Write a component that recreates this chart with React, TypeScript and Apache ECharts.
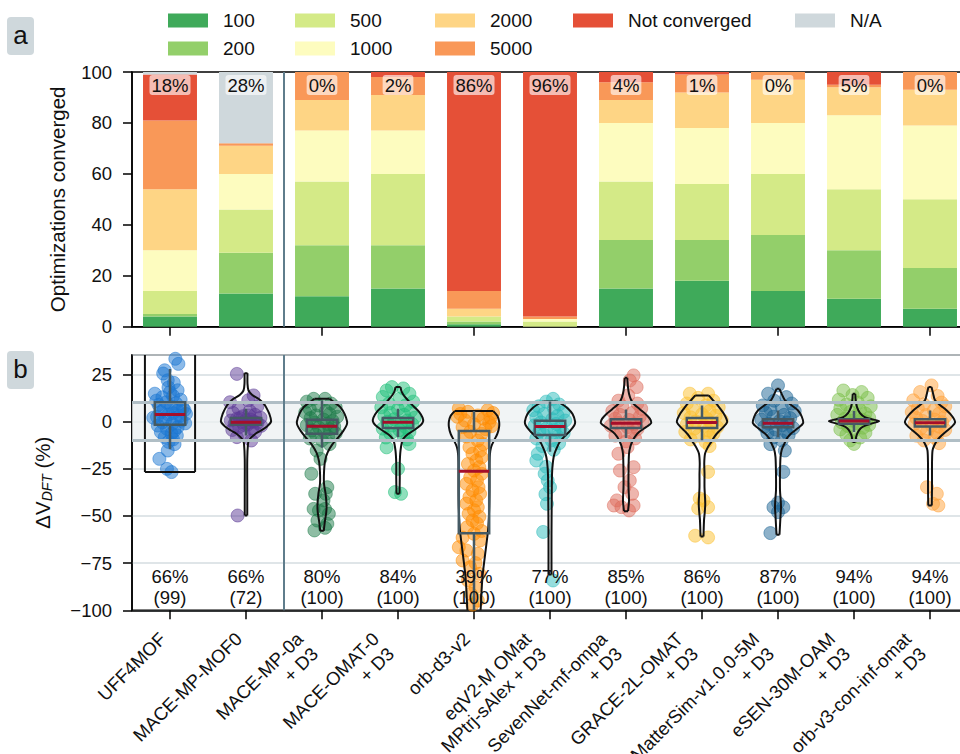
import React, { useEffect, useRef } from 'react';
import * as echarts from 'echarts';

const FONT = 'Liberation Sans, Arial, Helvetica, sans-serif';

// Models, in plotting order
const modelNames = [
  'UFF4MOF',
  'MACE-MP-MOF0',
  'MACE-MP-0a\n+ D3',
  'MACE-OMAT-0\n+ D3',
  'orb-d3-v2',
  'eqV2-M OMat\nMPtrj-sAlex + D3',
  'SevenNet-mf-ompa\n+ D3',
  'GRACE-2L-OMAT\n+ D3',
  'MatterSim-v1.0.0-5M\n+ D3',
  'eSEN-30M-OAM\n+ D3',
  'orb-v3-con-inf-omat\n+ D3',
];

// (a) share of optimizations converged within N steps (%)
const steps100 = [4, 13, 12, 15, 1, 0, 15, 18, 14, 11, 7];
const steps200 = [1, 16, 20, 17, 1, 0, 19, 16, 22, 19, 16];
const steps500 = [9, 17, 25, 28, 2, 2, 23, 22, 24, 24, 27];
const steps1000 = [16, 14, 20, 17, 0, 1, 23, 22, 20, 29, 29];
const steps2000 = [24, 11, 12, 14, 3, 0, 9, 14, 17, 11, 14];
const steps5000 = [27, 1, 11, 7, 7, 1, 7, 7, 3, 1, 7];
const notConverged = [18, 0, 0, 2, 86, 96, 4, 1, 0, 5, 0];
const notAvailable = [1, 28, 0, 0, 0, 0, 0, 0, 0, 0, 0];
const failedPct = [18, 28, 0, 2, 86, 96, 4, 1, 0, 5, 0];

const stepNames = ['100', '200', '500', '1000', '2000', '5000', 'Not converged', 'N/A'];
const stepSeries = [steps100, steps200, steps500, steps1000, steps2000, steps5000, notConverged, notAvailable];
const stepColors = ['#3faa5a', '#93cf6a', '#d4ea87', '#fdfcbf', '#fed585', '#f99858', '#e55037', '#cfd8dc'];

// (b) summary labels
const withinPct = [66, 66, 80, 84, 39, 77, 85, 86, 87, 94, 94];
const nStructures = [99, 72, 100, 100, 100, 100, 100, 100, 100, 100, 100];

const modelColors = ['#1976d2', '#5b3a96', '#1e7b4a', '#20c07a', '#ff8c00', '#2bbcbc', '#de6b5b', '#fbc02d', '#1b6394', '#7cbf4a', '#ffa23a'];

// (b) ΔV_DFT per structure: [value %, horizontal jitter in category widths]
const ptsUFF4MOF = [[33.2, 0.07], [30.5, 0.11], [27.1, -0.07], [25.4, -0.09], [21.8, -0.03], [20.5, 0.05], [18.0, -0.02], [16.5, 0.1], [14.7, -0.2], [13.5, 0.04], [12.8, -0.1], [11.5, 0.14], [10.2, -0.05], [9.6, 0.08], [8.8, -0.15], [7.9, 0.02], [7.2, 0.17], [6.5, -0.08], [5.8, 0.1], [5.0, -0.12], [4.4, 0.04], [3.7, -0.02], [3.0, 0.13], [2.4, -0.17], [1.8, 0.07], [1.0, -0.06], [0.4, 0.15], [-0.5, -0.1], [-1.2, 0.03], [-2.2, -0.16], [-3.0, 0.1], [-3.9, -0.04], [-4.8, 0.06], [-5.6, -0.12], [-6.5, 0.02], [-7.4, 0.09], [-8.3, -0.07], [-9.5, 0.04], [-10.8, -0.02], [-12.0, 0.06], [-15.4, -0.03], [-19.8, -0.14], [-25.1, -0.04], [-26.8, 0.02], [6.0, 0.19], [2.0, -0.22], [15.5, 0.0], [-1.0, 0.2], [11.0, -0.18], [4.0, 0.21]];
const ptsMOF0 = [[25.2, -0.12], [13.8, 0.1], [11.2, 0.03], [10.2, -0.21], [8.0, 0.15], [7.0, -0.1], [5.5, 0.05], [4.5, -0.17], [3.5, 0.12], [2.8, -0.04], [2.0, 0.19], [1.5, -0.12], [1.0, 0.06], [0.5, -0.2], [0.0, 0.1], [-0.3, -0.05], [-0.8, 0.15], [-1.2, -0.15], [-1.7, 0.02], [-2.3, 0.2], [-3.0, -0.09], [-3.8, 0.08], [-4.5, -0.18], [-5.5, 0.12], [-6.5, -0.03], [-8.3, -0.12], [-10.1, 0.07], [-49.8, -0.11], [0.8, 0.0], [-0.5, 0.05], [1.8, -0.08], [-2.0, -0.02], [3.2, 0.04]];
const ptsMP0a = [[12.0, -0.11], [12.0, 0.04], [10.5, -0.2], [9.5, 0.12], [8.5, -0.05], [7.5, 0.18], [6.5, -0.16], [5.5, 0.05], [4.8, -0.22], [4.0, 0.1], [3.2, -0.08], [2.5, 0.2], [1.8, -0.15], [1.0, 0.02], [0.3, 0.14], [-0.5, -0.1], [-1.2, 0.07], [-2.0, -0.2], [-2.6, 0.16], [-3.3, -0.04], [-4.0, 0.1], [-4.8, -0.13], [-5.5, 0.03], [-6.3, 0.18], [-7.0, -0.08], [-8.0, 0.08], [-9.0, -0.16], [-10.0, 0.0], [-12.0, 0.1], [-15.4, -0.07], [-19.8, -0.02], [-27.7, -0.14], [-34.8, 0.07], [-38.3, -0.09], [-38.3, 0.05], [-41.8, 0.02], [-46.3, -0.11], [-47.1, -0.04], [-46.3, 0.04], [-48.9, 0.09], [-52.5, -0.06], [-54.2, 0.07], [-57.7, -0.1], [-56.3, 0.04]];
const ptsOMAT0 = [[18.2, -0.08], [16.4, -0.15], [17.5, 0.07], [14.7, 0.15], [13.0, -0.2], [12.0, 0.02], [10.5, 0.2], [9.5, -0.12], [8.5, 0.1], [7.5, -0.22], [6.5, 0.0], [5.5, 0.17], [4.5, -0.1], [3.5, 0.08], [2.8, -0.18], [2.0, 0.22], [1.2, -0.05], [0.5, 0.12], [-0.2, -0.14], [-0.8, 0.04], [-1.5, 0.19], [-2.2, -0.08], [-3.0, 0.1], [-3.8, -0.2], [-4.6, 0.02], [-5.5, 0.15], [-6.5, -0.1], [-7.5, 0.07], [-8.5, -0.16], [-9.5, 0.12], [-11.9, 0.15], [-13.7, -0.15], [-25.1, 0.0], [-37.4, -0.04], [-38.3, 0.04]];
const ptsOrbD3 = [[6.9, -0.2], [6.0, 0.18], [5.1, -0.08], [4.5, 0.25], [3.2, 0.05], [2.5, -0.22], [1.5, 0.12], [0.6, -0.12], [-0.5, 0.2], [-1.5, 0.0], [-3.0, -0.15], [-4.0, 0.15], [-5.5, -0.05], [-6.5, 0.1], [-8.0, -0.1], [-10.1, 0.05], [-12.0, 0.12], [-13.6, -0.06], [-15.5, 0.08], [-17.1, -0.02], [-19.0, 0.1], [-20.7, 0.03], [-22.5, -0.08], [-24.2, 0.07], [-26.0, 0.0], [-27.7, 0.1], [-29.5, -0.05], [-31.3, 0.04], [-33.0, -0.1], [-34.8, 0.06], [-36.5, -0.02], [-38.3, 0.08], [-40.0, -0.06], [-41.8, 0.03], [-43.5, -0.1], [-45.4, 0.05], [-47.0, 0.0], [-48.9, -0.07], [-50.5, 0.07], [-52.4, -0.02], [-54.0, 0.04], [-56.0, -0.09], [-58.0, 0.1], [-59.5, 0.0], [-61.5, -0.15], [-63.0, 0.08], [-66.6, -0.2], [-68.3, -0.1], [-70.1, 0.05], [-73.6, -0.15], [-75.0, 0.02], [-77.2, -0.05], [-80.7, 0.07], [-84.2, -0.08], [-87.8, 0.02], [-91.3, -0.04], [-94.8, 0.05], [-97.0, -0.02], [4.0, -0.18], [2.0, 0.22], [-2.5, 0.23]];
const ptsEqV2 = [[12.0, 0.04], [10.5, -0.05], [9.0, 0.12], [8.0, -0.15], [7.0, 0.05], [6.0, -0.22], [5.0, 0.18], [4.0, -0.08], [3.0, 0.1], [2.0, -0.18], [1.2, 0.03], [0.5, 0.2], [-0.5, -0.12], [-1.3, 0.08], [-2.0, -0.2], [-2.8, 0.14], [-3.5, -0.04], [-4.5, 0.06], [-5.3, -0.14], [-6.2, 0.18], [-7.0, -0.08], [-8.0, 0.1], [-9.0, -0.18], [-10.0, 0.02], [-11.5, 0.12], [-13.0, -0.1], [-15.0, 0.05], [-17.1, -0.16], [-20.7, -0.18], [-24.0, -0.05], [-27.7, -0.07], [-31.3, -0.03], [-34.8, 0.0], [-38.5, -0.06], [-43.6, -0.04], [-58.5, -0.09], [-84.2, 0.04]];
const ptsSevenNet = [[24.4, 0.1], [21.7, 0.05], [18.2, 0.14], [13.8, 0.03], [11.0, -0.1], [9.5, 0.15], [8.0, -0.05], [6.8, 0.2], [5.5, -0.18], [4.5, 0.08], [3.5, -0.08], [2.5, 0.18], [1.5, -0.14], [0.8, 0.04], [0.0, 0.22], [-0.8, -0.1], [-1.5, 0.1], [-2.3, -0.2], [-3.0, 0.02], [-4.0, 0.15], [-5.0, -0.06], [-6.0, 0.08], [-7.5, -0.14], [-9.0, 0.12], [-10.5, 0.0], [-13.6, 0.02], [-17.1, -0.1], [-24.2, 0.1], [-26.0, -0.08], [-31.3, 0.05], [-34.8, -0.02], [-38.3, 0.08], [-41.8, -0.12], [-44.5, -0.16], [-44.5, 0.1], [-45.4, -0.06], [-47.1, 0.04]];
const ptsGRACE = [[14.7, -0.16], [14.7, 0.08], [12.5, -0.05], [11.0, 0.15], [9.5, -0.2], [8.5, 0.05], [7.5, 0.22], [6.5, -0.12], [5.5, 0.1], [4.5, -0.24], [3.8, 0.0], [3.0, 0.18], [2.2, -0.15], [1.5, 0.06], [0.8, 0.26], [0.0, -0.08], [-0.8, 0.12], [-1.5, -0.2], [-2.3, 0.03], [-3.0, 0.2], [-3.8, -0.1], [-4.7, 0.08], [-5.5, -0.22], [-6.5, 0.15], [-7.5, -0.05], [-8.5, 0.1], [-9.5, -0.15], [-11.0, 0.05], [-13.0, 0.1], [-26.7, 0.08], [-40.8, -0.03], [-41.8, 0.02], [-45.4, 0.08], [-46.0, -0.05], [-60.5, -0.09], [-61.4, 0.08]];
const ptsMatterSim = [[19.1, 0.0], [14.7, -0.13], [12.9, 0.11], [11.0, -0.05], [9.5, 0.18], [8.5, -0.2], [7.5, 0.05], [6.5, -0.1], [5.5, 0.22], [4.5, -0.16], [3.5, 0.08], [2.5, -0.06], [1.8, 0.16], [1.0, -0.22], [0.2, 0.02], [-0.5, 0.12], [-1.2, -0.12], [-2.0, 0.06], [-2.8, -0.18], [-3.5, 0.2], [-4.3, -0.03], [-5.2, 0.1], [-6.2, -0.14], [-7.2, 0.14], [-8.5, -0.06], [-10.0, 0.05], [-12.0, -0.1], [-15.4, 0.09], [-26.7, 0.07], [-43.0, 0.0], [-45.4, -0.06], [-45.4, 0.07], [-48.0, 0.0], [-59.1, -0.1]];
const ptsESEN = [[16.4, -0.14], [15.6, 0.1], [14.0, -0.02], [12.5, 0.18], [11.5, -0.2], [10.0, 0.05], [9.0, -0.1], [8.0, 0.22], [7.0, -0.18], [6.0, 0.08], [5.0, -0.05], [4.2, 0.15], [3.5, -0.22], [2.8, 0.02], [2.0, 0.2], [1.5, -0.12], [1.0, 0.1], [0.5, -0.04], [0.0, 0.16], [-0.5, -0.16], [-1.0, 0.04], [-1.8, 0.2], [-2.5, -0.08], [-3.3, 0.12], [-4.2, -0.18], [-5.0, 0.0], [-6.0, 0.15], [-7.0, -0.1], [-8.5, 0.08], [-10.0, -0.05], [-11.9, 0.0]];
const ptsOrbV3 = [[19.1, 0.02], [15.6, -0.13], [13.5, 0.1], [11.2, -0.22], [10.0, 0.15], [9.0, -0.08], [8.0, 0.2], [7.0, -0.16], [6.0, 0.05], [5.0, -0.24], [4.2, 0.12], [3.4, -0.05], [2.6, 0.2], [1.8, -0.18], [1.0, 0.06], [0.3, -0.1], [-0.4, 0.16], [-1.2, -0.2], [-2.0, 0.02], [-2.8, 0.12], [-3.6, -0.12], [-4.5, 0.2], [-5.5, -0.04], [-6.5, 0.1], [-7.5, -0.18], [-8.5, 0.06], [-10.0, -0.08], [-11.5, 0.12], [-34.8, -0.04], [-38.3, 0.09], [-43.6, 0.04], [-44.5, 0.11]];
const modelPoints = [ptsUFF4MOF, ptsMOF0, ptsMP0a, ptsOMAT0, ptsOrbD3, ptsEqV2, ptsSevenNet, ptsGRACE, ptsMatterSim, ptsESEN, ptsOrbV3];

// Violin outlines: [value %, relative half-width], from data max down to data min
const vioUFF4MOF = [[60, 1], [30, 1], [0, 1], [-26.8, 1]];
const vioMOF0 = [[25.6, 0.06], [20, 0.06], [16.4, 0.1], [14, 0.25], [12, 0.5], [9.5, 0.7], [7.6, 0.8], [4, 0.93], [0, 1], [-2.5, 0.85], [-4.8, 0.6], [-6.5, 0.38], [-8.3, 0.22], [-10, 0.12], [-11.8, 0.08], [-20, 0.05], [-35, 0.05], [-49.8, 0.05]];
const vioMP0a = [[12.0, 0.3], [10, 0.5], [7.6, 0.73], [4, 0.9], [0, 1], [-2, 0.98], [-5, 0.85], [-8.3, 0.66], [-12, 0.42], [-16.5, 0.22], [-21, 0.12], [-27, 0.08], [-33, 0.08], [-38, 0.14], [-44, 0.18], [-48, 0.17], [-52.4, 0.12], [-57.9, 0.07]];
const vioOMAT0 = [[18.2, 0.1], [16, 0.14], [14, 0.22], [11.2, 0.4], [8, 0.62], [5, 0.85], [2, 0.98], [0, 1], [-2, 0.9], [-4.8, 0.62], [-7.5, 0.32], [-10, 0.18], [-15.4, 0.1], [-22, 0.07], [-30, 0.07], [-38.3, 0.06]];
const vioOrbD3 = [[5.5, 0.77], [3, 0.93], [0, 1], [-3, 1], [-6.6, 0.93], [-10, 0.8], [-13.6, 0.68], [-18, 0.63], [-25, 0.62], [-35, 0.62], [-45, 0.61], [-56, 0.57], [-60, 0.54], [-66.6, 0.48], [-75, 0.4], [-82, 0.34], [-90, 0.3], [-98.4, 0.27], [-110, 0.2], [-125, 0.1]];
const vioEqV2 = [[10.6, 0.27], [9, 0.5], [7, 0.7], [4, 0.9], [0, 1], [-2, 0.97], [-5, 0.8], [-8.3, 0.55], [-11, 0.38], [-14, 0.27], [-17, 0.18], [-21, 0.12], [-28, 0.08], [-40, 0.07], [-60, 0.06], [-81, 0.06]];
const vioSevenNet = [[23.1, 0.05], [18, 0.08], [14.7, 0.12], [11.5, 0.2], [9.4, 0.3], [6.5, 0.55], [4.1, 0.77], [1.5, 0.95], [-0.9, 1], [-3, 0.8], [-5.6, 0.52], [-8, 0.36], [-10.1, 0.27], [-13, 0.18], [-17.1, 0.12], [-27.7, 0.1], [-35, 0.1], [-41.8, 0.12], [-47.5, 0.08]];
const vioGRACE = [[13.8, 0.27], [11.5, 0.42], [9.4, 0.57], [6.5, 0.74], [4.1, 0.87], [1.5, 0.97], [-0.4, 1], [-3, 0.85], [-5.6, 0.65], [-8, 0.5], [-10.8, 0.37], [-14, 0.22], [-17.1, 0.12], [-22, 0.09], [-27.7, 0.1], [-35, 0.1], [-43.6, 0.13], [-48, 0.11], [-52.5, 0.08], [-60.9, 0.06]];
const vioMatterSim = [[17.3, 0.06], [14.5, 0.15], [11.2, 0.28], [8.5, 0.55], [5.8, 0.8], [2.5, 0.95], [-0.9, 1], [-3.5, 0.8], [-6.6, 0.5], [-9, 0.35], [-11.9, 0.25], [-15, 0.15], [-18.9, 0.1], [-28, 0.08], [-36.6, 0.08], [-42, 0.11], [-45.5, 0.12], [-50, 0.1], [-60, 0.06]];
const vioESEN = [[14.7, 0.05], [11, 0.07], [7.6, 0.12], [4.4, 0.24], [2.3, 0.43], [1.2, 0.7], [0.2, 1], [-1, 0.72], [-2.1, 0.47], [-3.5, 0.28], [-5.6, 0.16], [-8, 0.09], [-10.9, 0.06]];
const vioOrbV3 = [[18.2, 0.06], [15, 0.12], [11.2, 0.2], [8.5, 0.42], [5.8, 0.67], [2.5, 0.9], [-0.5, 1], [-3, 0.85], [-5.6, 0.62], [-8, 0.42], [-10.1, 0.28], [-13, 0.16], [-15.4, 0.1], [-22, 0.08], [-27.7, 0.08], [-35, 0.08], [-44.5, 0.07]];
const modelViolins = [vioUFF4MOF, vioMOF0, vioMP0a, vioOMAT0, vioOrbD3, vioEqV2, vioSevenNet, vioGRACE, vioMatterSim, vioESEN, vioOrbV3];

// Box statistics: [lower whisker, Q1, median, Q3, upper whisker]
const boxStats = [
  [-14.7, -1.7, 3.7, 10.2, 27.8],
  [-7.4, -1.8, -0.35, 1.9, 6.7],
  [-13.9, -6.5, -2.5, 0.9, 11.1],
  [-8.3, -3.5, -0.35, 1.8, 6.7],
  [-100, -59.2, -26.3, -5.1, 5.5],
  [-16, -7.1, -2.6, 0.35, 10.6],
  [-8.7, -3.4, -0.9, 1.2, 6.4],
  [-10, -3.4, -0.5, 1.9, 8.5],
  [-8.3, -3.0, -0.9, 1.2, 5.8],
  [-5.6, -1.2, 0.2, 1.2, 5.5],
  [-7.4, -2.6, -0.7, 1.2, 5.8],
];

// ΔV tolerance band (%)
const bandLimits = [10, -10];
// index of the last baseline model (separator drawn after it)
const separatorAfter = 1;

const VIOLIN_HALF = 0.33;
const BOX_HALF = 0.2;
const AXIS_BLACK = '#000';

const fmtMinus = (v: number) => (v < 0 ? '\u2212' + Math.abs(v) : String(v));

function buildOption() {
  const catData = modelNames.map((name) => {
    const lines = name.split('\n').length;
    return { value: name, textStyle: { padding: [0, lines * 10.5, 0, 0] } };
  });

  const barSeries = stepNames.map((name, k) => ({
    name,
    type: 'bar',
    stack: 'steps',
    xAxisIndex: 0,
    yAxisIndex: 0,
    barWidth: '71%',
    itemStyle: { color: stepColors[k] },
    data: stepSeries[k],
    z: 2,
  }));

  const separator = (xAxisIndex: number, yAxisIndex: number) => ({
    type: 'custom',
    xAxisIndex,
    yAxisIndex,
    silent: true,
    z: 6,
    data: [[separatorAfter + 0.5, 0]],
    renderItem: (params: any, api: any) => {
      const x = api.coord([api.value(0), 0])[0];
      const cs = params.coordSys;
      return {
        type: 'line',
        shape: { x1: x, y1: cs.y, x2: x, y2: cs.y + cs.height },
        style: { stroke: '#5f7d8c', lineWidth: 2 },
      };
    },
  });

  const failLabelSeries = {
    type: 'custom',
    xAxisIndex: 3,
    yAxisIndex: 0,
    silent: true,
    z: 7,
    data: failedPct.map((p, i) => [i, 100, p]),
    renderItem: (params: any, api: any) => {
      const p = api.coord([api.value(0), api.value(1)]);
      return {
        type: 'text',
        x: p[0],
        y: p[1] + 13,
        style: {
          text: api.value(2) + '%',
          fontSize: 18.5,
          fontFamily: FONT,
          fill: '#111',
          align: 'center',
          verticalAlign: 'middle',
          backgroundColor: 'rgba(255,255,255,0.62)',
          padding: [1, 2, 0, 2],
          borderRadius: 3,
        },
      };
    },
  };

  const bandSeries = {
    type: 'line',
    xAxisIndex: 2,
    yAxisIndex: 1,
    data: [],
    silent: true,
    z: 1,
    markArea: {
      silent: true,
      itemStyle: { color: 'rgba(236,240,241,0.75)' },
      data: [[{ yAxis: bandLimits[0] }, { yAxis: bandLimits[1] }]],
    },
    markLine: {
      silent: true,
      symbol: 'none',
      label: { show: false },
      lineStyle: { color: '#b0bec5', width: 3, type: 'solid' },
      data: bandLimits.map((v) => ({ yAxis: v })),
    },
  };

  const scatterSeries = modelPoints.map((pts, i) => ({
    type: 'scatter',
    xAxisIndex: 2,
    yAxisIndex: 1,
    symbolSize: 13,
    silent: true,
    z: 3,
    itemStyle: { color: modelColors[i], opacity: 0.5, borderColor: modelColors[i], borderWidth: 1 },
    data: pts.map(([v, dx]) => [i + dx, v]),
  }));

  const violinSeries = {
    type: 'custom',
    xAxisIndex: 2,
    yAxisIndex: 1,
    clip: true,
    silent: true,
    z: 4,
    data: modelNames.map((_, i) => [i, 0]),
    renderItem: (params: any, api: any) => {
      const i = api.value(0);
      const prof = modelViolins[i];
      const right = prof.map(([v, f]) => api.coord([i + f * VIOLIN_HALF, v]));
      const left = prof.map(([v, f]) => api.coord([i - f * VIOLIN_HALF, v]));
      const n = prof.length - 1;
      const style = { stroke: '#111', lineWidth: 2, fill: 'none' };
      return {
        type: 'group',
        children: [
          { type: 'polyline', shape: { points: right, smooth: 0.3 }, style },
          { type: 'polyline', shape: { points: left, smooth: 0.3 }, style },
          { type: 'line', shape: { x1: left[0][0], y1: left[0][1], x2: right[0][0], y2: right[0][1] }, style },
          { type: 'line', shape: { x1: left[n][0], y1: left[n][1], x2: right[n][0], y2: right[n][1] }, style },
        ],
      };
    },
  };

  const boxSeries = {
    type: 'custom',
    xAxisIndex: 2,
    yAxisIndex: 1,
    clip: true,
    silent: true,
    z: 5,
    data: modelNames.map((_, i) => [i, 0]),
    renderItem: (params: any, api: any) => {
      const i = api.value(0);
      const [lo, q1, med, q3, hi] = boxStats[i];
      const pLo = api.coord([i, lo]);
      const pQ1 = api.coord([i, q1]);
      const pQ3 = api.coord([i, q3]);
      const pHi = api.coord([i, hi]);
      const tl = api.coord([i - BOX_HALF, q3]);
      const br = api.coord([i + BOX_HALF, q1]);
      const m1 = api.coord([i - BOX_HALF, med]);
      const m2 = api.coord([i + BOX_HALF, med]);
      const edge = { stroke: '#455a64', lineWidth: 2.5, fill: 'none' };
      return {
        type: 'group',
        children: [
          { type: 'line', shape: { x1: pLo[0], y1: pLo[1], x2: pQ1[0], y2: pQ1[1] }, style: edge },
          { type: 'line', shape: { x1: pQ3[0], y1: pQ3[1], x2: pHi[0], y2: pHi[1] }, style: edge },
          { type: 'rect', shape: { x: tl[0], y: tl[1], width: br[0] - tl[0], height: br[1] - tl[1] }, style: edge },
          { type: 'line', shape: { x1: m1[0], y1: m1[1], x2: m2[0], y2: m2[1] }, style: { stroke: '#a50e2a', lineWidth: 3 } },
        ],
      };
    },
  };

  const statSeries = {
    type: 'custom',
    xAxisIndex: 2,
    yAxisIndex: 1,
    silent: true,
    z: 8,
    data: withinPct.map((p, i) => [i, -100, p, nStructures[i]]),
    renderItem: (params: any, api: any) => {
      const p = api.coord([api.value(0), api.value(1)]);
      return {
        type: 'text',
        x: p[0],
        y: p[1] - 23,
        style: {
          text: api.value(2) + '%\n(' + api.value(3) + ')',
          fontSize: 18.5,
          lineHeight: 21,
          fontFamily: FONT,
          fill: '#111',
          align: 'center',
          verticalAlign: 'middle',
        },
      };
    },
  };

  const legendCols = [['100', '200'], ['500', '1000'], ['2000', '5000'], ['Not converged'], ['N/A']];
  const legendLefts = [163, 290, 430, 568, 790];

  const tickStyle = { show: true, length: 9, lineStyle: { color: AXIS_BLACK, width: 1.5 } };
  const lineStyle = { show: true, onZero: false, lineStyle: { color: AXIS_BLACK, width: 1.5 } };
  const hiddenLine = { show: false, onZero: false };
  const gridBase = { left: 132, width: 836, show: true, borderColor: AXIS_BLACK, borderWidth: 1.5, containLabel: false, outerBoundsMode: 'none' };

  return {
    animation: false,
    textStyle: { fontFamily: FONT },
    legend: legendCols.map((names, k) => ({
      left: legendLefts[k],
      top: 6,
      orient: 'vertical',
      data: names,
      icon: 'rect',
      itemWidth: 40,
      itemHeight: 14,
      itemGap: 9,
      selectedMode: false,
      textStyle: { fontSize: 19, color: '#111', fontFamily: FONT, padding: [0, 0, 0, 10] },
    })),
    graphic: [
      { type: 'rect', shape: { x: 7, y: 17, width: 27, height: 38, r: 4 }, style: { fill: '#cfd8dc' } },
      { type: 'text', x: 20.5, y: 35, style: { text: 'a', fontSize: 26, fontFamily: FONT, fill: '#111', align: 'center', verticalAlign: 'middle' } },
      { type: 'rect', shape: { x: 7, y: 351, width: 27, height: 38, r: 4 }, style: { fill: '#cfd8dc' } },
      { type: 'text', x: 20.5, y: 369, style: { text: 'b', fontSize: 26, fontFamily: FONT, fill: '#111', align: 'center', verticalAlign: 'middle' } },
    ],
    grid: [
      { ...gridBase, top: 72, height: 254.7 },
      { ...gridBase, top: 355, height: 255.3 },
    ],
    xAxis: [
      {
        type: 'category', gridIndex: 0, data: modelNames,
        axisLine: lineStyle, axisTick: { ...tickStyle, alignWithLabel: true }, axisLabel: { show: false },
      },
      {
        type: 'category', gridIndex: 1, data: catData,
        axisLine: lineStyle, axisTick: { ...tickStyle, alignWithLabel: true },
        axisLabel: { interval: 0, rotate: 45, margin: 18, fontSize: 18.5, lineHeight: 21, color: '#111', fontFamily: FONT, hideOverlap: false },
      },
      { type: 'value', gridIndex: 1, min: -0.5, max: 10.5, show: false, axisLine: hiddenLine },
      { type: 'value', gridIndex: 0, min: -0.5, max: 10.5, show: false, axisLine: hiddenLine },
    ],
    yAxis: [
      {
        type: 'value', gridIndex: 0, min: 0, max: 100, interval: 20,
        name: 'Optimizations converged', nameLocation: 'middle', nameGap: 64,
        nameTextStyle: { fontSize: 20.5, color: '#111', fontFamily: FONT },
        axisLine: lineStyle, axisTick: tickStyle,
        axisLabel: { fontSize: 18.5, color: '#111', margin: 20, fontFamily: FONT },
        splitLine: { show: false },
      },
      {
        type: 'value', gridIndex: 1, min: -100, max: 35.2, interval: 25,
        name: '{d|\u0394V}{s|DFT}{d| (%)}', nameLocation: 'middle', nameGap: 78,
        nameTextStyle: {
          color: '#111',
          fontFamily: FONT,
          rich: {
            d: { fontSize: 20.5, lineHeight: 24, fontFamily: FONT, color: '#111' },
            s: { fontSize: 14, lineHeight: 12, fontStyle: 'italic', verticalAlign: 'bottom', fontFamily: FONT, color: '#111' },
          },
        },
        axisLine: lineStyle,
        axisTick: tickStyle,
        axisLabel: { fontSize: 18.5, color: '#111', margin: 20, fontFamily: FONT, formatter: fmtMinus, showMaxLabel: false },
        splitLine: { show: true, lineStyle: { color: '#d5dde1', width: 1.5 } },
      },
    ],
    series: [
      ...barSeries,
      failLabelSeries,
      separator(3, 0),
      bandSeries,
      ...scatterSeries,
      violinSeries,
      boxSeries,
      statSeries,
      separator(2, 1),
    ],
  };
}

export default function App() {
  const ref = useRef<HTMLDivElement>(null);
  useEffect(() => {
    if (!ref.current) return;
    const chart = echarts.init(ref.current, null, { renderer: 'svg' });
    chart.setOption(buildOption() as any);
    return () => chart.dispose();
  }, []);
  return <div ref={ref} style={{ position: 'absolute', left: 0, top: 0, width: 960, height: 754, background: '#fff' }} />;
}
